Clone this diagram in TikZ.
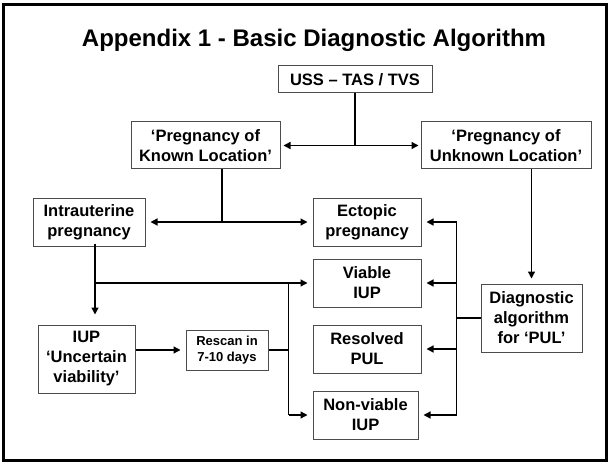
\documentclass[tikz,border=0pt]{standalone}
\usepackage{fontspec}
\setmainfont{Liberation Sans}
\usetikzlibrary{arrows.meta}
\begin{document}
\begin{tikzpicture}[x=1pt,y=-1pt,
    box/.style={draw=black!70,line width=1pt,align=center,inner sep=0pt,font=\bfseries\fontsize{16.5}{20}\selectfont},
    link/.style={line width=1.3pt},
    arrow/.style={link,-{Triangle[length=7pt,width=7pt]},shorten >=5pt}]
    \useasboundingbox (0,0) rectangle (609,462);
    \draw[line width=3pt] (3,5) rectangle (606,460);
    \node[font=\bfseries\fontsize{24}{28}\selectfont,anchor=base] (title) at (314,47) {Appendix 1 - Basic Diagnostic Algorithm};
    % boxes
    \node[box,minimum width=154pt,minimum height=27pt] (uss) at (355,79.5) {USS – TAS / TVS};
    \node[box,minimum width=149pt,minimum height=47pt] (pkl) at (205.5,145.5) {‘Pregnancy of\\Known Location’};
    \node[box,minimum width=170pt,minimum height=47pt] (pul) at (506,145.5) {‘Pregnancy of\\Unknown Location’};
    \node[box,minimum width=112pt,minimum height=48pt] (intra) at (89,222) {Intrauterine\\pregnancy};
    \node[box,minimum width=108pt,minimum height=48pt] (ectopic) at (367,222) {Ectopic\\pregnancy};
    \node[box,minimum width=108pt,minimum height=48pt] (viable) at (367,283) {Viable\\IUP};
    \node[box,minimum width=108pt,minimum height=48pt] (resolved) at (367,349) {Resolved\\PUL};
    \node[box,minimum width=105pt,minimum height=48pt] (nonviable) at (365.5,415) {Non-viable\\IUP};
    \node[box,minimum width=101pt,minimum height=68pt] (diag) at (531.5,318) {Diagnostic\\algorithm\\for ‘PUL’};
    \node[box,minimum width=97pt,minimum height=68pt] (iup) at (86.5,359) {IUP\\‘Uncertain\\viability’};
    \node[box,minimum width=82pt,minimum height=40pt,font=\bfseries\fontsize{13}{16}\selectfont] (rescan) at (227,350) {Rescan in\\7-10 days};
    % junctions
    \coordinate (j1) at (uss.south |- pkl.east);
    \coordinate (j2) at ([xshift=16.5pt]pkl.south |- intra.east);
    \coordinate (j3) at ([xshift=6pt]intra.south);
    \coordinate (j4) at ([xshift=20pt]rescan.east |- viable.west);
    \coordinate (j5) at ([xshift=35pt]ectopic.east);
    % connectors
    \draw[link] (uss.south) -- (j1);
    \draw[arrow,shorten >=3pt] (j1) -- (pkl.east);
    \draw[arrow,shorten >=2pt] (j1) -- (pul.west);
    \draw[link] (j2 |- pkl.south) -- (j2);
    \draw[arrow] (j2) -- (intra.east);
    \draw[arrow] (j2) -- (ectopic.west);
    \draw[arrow] (pul.south -| diag.north) -- (diag.north);
    \draw[arrow,shorten >=10pt] ([yshift=3pt]j3) -- (j3 |- iup.north);
    \draw[arrow] (j3 |- viable.west) -- (viable.west);
    \draw[arrow] (iup.east |- rescan.west) -- (rescan.west);
    \draw[link] (rescan.east) -- (rescan.east -| j4);
    \draw[link] (j4) -- (j4 |- nonviable.west);
    \draw[arrow] (j4 |- nonviable.west) -- (nonviable.west);
    \draw[link] (j5) -- (j5 |- nonviable.east);
    \draw[link] (diag.west) -- (diag.west -| j5);
    \foreach \n in {ectopic,viable,resolved,nonviable}
        \draw[arrow] (j5 |- \n.east) -- (\n.east);
\end{tikzpicture}
\end{document}
